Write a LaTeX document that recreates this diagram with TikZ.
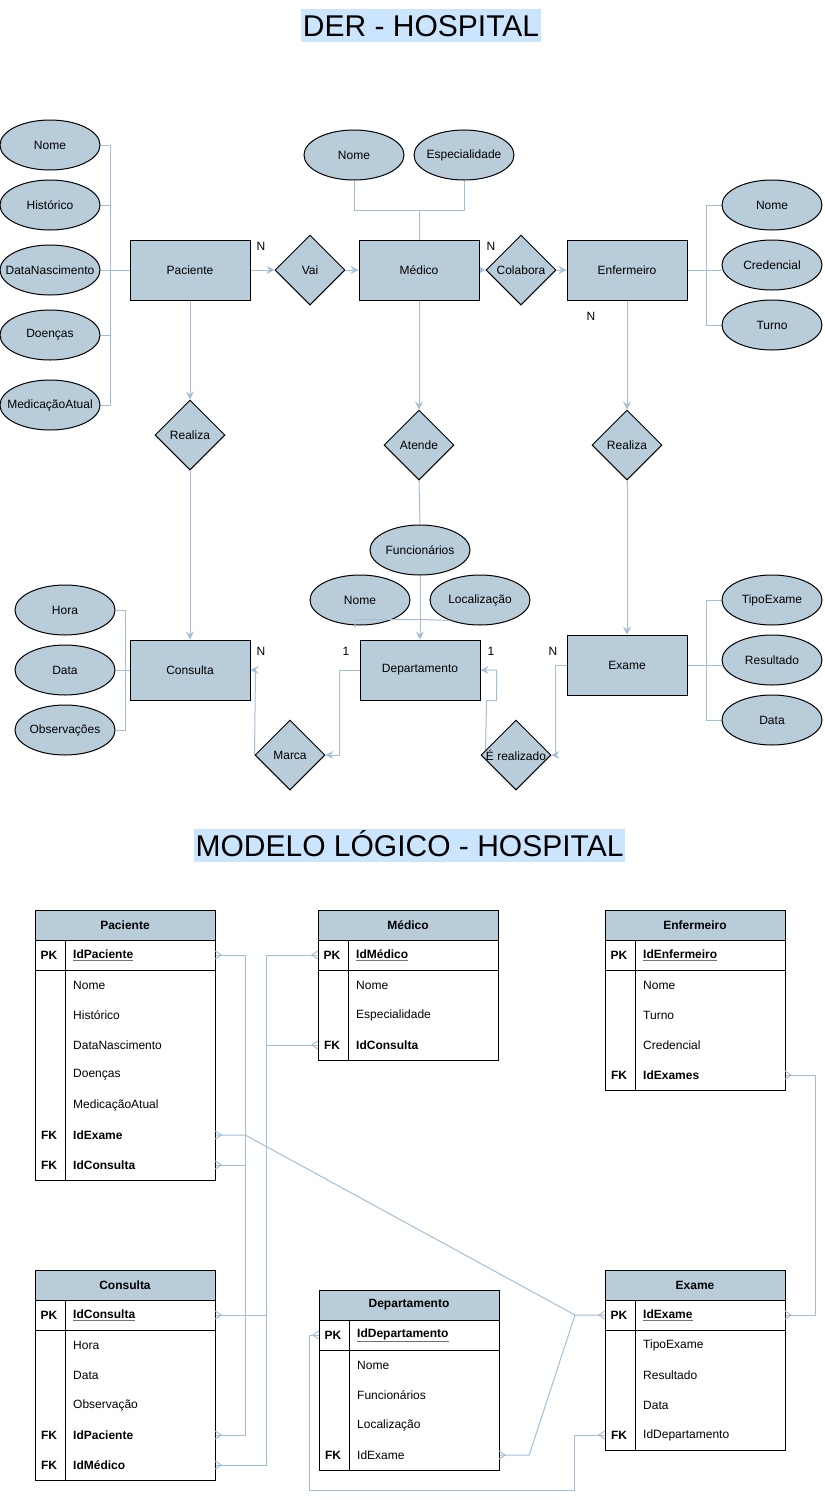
\documentclass[tikz,border=0pt]{standalone}
\usepackage{fontspec}
\setmainfont{Liberation Sans}
\usetikzlibrary{shapes.geometric,arrows.meta,calc,backgrounds}
\definecolor{shapefill}{HTML}{B9CCDA}
\definecolor{edgec}{HTML}{A2BFD9}
\definecolor{hilite}{HTML}{CCE5FF}
\newcommand{\ftn}{\fontsize{12}{14}\selectfont}
\newcommand{\fttitle}{\fontsize{30}{34}\selectfont}
\newcommand{\pkfield}[1]{{\color{black!55}\underline{\textcolor{black}{\textbf{#1}}}}}
\newcommand{\attrnode}[3]{\node[attr] (#1) at (#2) {}; \node[txt] (#1-t) at (#1) {#3};}
\newcommand{\relnode}[3]{\node[rel] (#1) at (#2) {}; \node[txt] (#1-t) at (#1) {#3};}
\newcommand{\trow}[5]{\node[trowbox] (#1) at (#2+90,#3) {}; \node[keytxt] (#1-k) at (#2+14,#3) {#4}; \node[fldtxt] (#1-f) at (#2+38,#3) {#5};}
\tikzset{
  ent/.style={draw=black, fill=shapefill, minimum width=120pt, minimum height=60pt, inner sep=0pt, line width=1pt, font=\ftn},
  attr/.style={ellipse, draw=black, fill=shapefill, minimum width=100pt, minimum height=50pt, inner sep=0pt, line width=1pt},
  rel/.style={diamond, draw=black, fill=shapefill, minimum width=70pt, minimum height=70pt, inner sep=0pt, aspect=1, line width=1pt},
  txt/.style={inner sep=0pt, font=\ftn},
  titlebox/.style={fill=hilite, inner xsep=1.5pt, inner ysep=1pt, text height=26pt, text depth=5pt, font=\fttitle, anchor=base},
  conn/.style={draw=edgec, line width=1pt},
  arr/.style={conn, -{Stealth[length=8pt,width=8pt,inset=3pt]}},
  thead/.style={draw=black, fill=shapefill, minimum width=180pt, minimum height=30pt, inner sep=0pt, line width=1pt, font=\ftn\bfseries},
  tline/.style={draw=black, line width=1pt},
  trowbox/.style={minimum width=180pt, minimum height=30pt, inner sep=0pt},
  keytxt/.style={inner sep=0pt, font=\ftn\bfseries},
  fldtxt/.style={inner sep=0pt, anchor=west, font=\ftn},
  crow/.pic={\draw[conn] (0,-4) -- (6,0) -- (0,4);}
}
\begin{document}
\begin{tikzpicture}[x=1pt,y=-1pt]
\useasboundingbox (0,0) rectangle (825,1500);

% titles
\node[titlebox] (t1) at (421,36) {DER - HOSPITAL};
\node[titlebox] (t2) at (409.5,856) {MODELO LÓGICO - HOSPITAL};

% ===== ER diagram =====
\node[ent] (pac) at (190,270) {Paciente};
\node[ent] (med) at (419,270) {Médico};
\node[ent] (enf) at (627,270) {Enfermeiro};
\node[ent] (cons) at (190,670) {Consulta};
\node[ent] (dep) at (420,670) {Departamento};
\node[ent] (exa) at (627,665) {Exame};

\attrnode{pnome}{50,145}{Nome}
\attrnode{phist}{50,205}{Histórico}
\attrnode{pdata}{50,270}{DataNascimento}
\attrnode{pdoen}{50,335}{Doenças}
\attrnode{pmed}{50,405}{MedicaçãoAtual}
\attrnode{mnome}{354,155}{Nome}
\attrnode{mesp}{464,155}{Especialidade}
\attrnode{enome}{772,205}{Nome}
\attrnode{ecred}{772,265}{Credencial}
\attrnode{eturno}{772,325}{Turno}
\attrnode{chora}{65,610}{Hora}
\attrnode{cdata}{65,670}{Data}
\attrnode{cobs}{65,730}{Observações}
\attrnode{dfunc}{420,550}{Funcionários}
\attrnode{dnome}{360,600}{Nome}
\attrnode{dloc}{480,600}{Localização}
\attrnode{xtipo}{772,600}{TipoExame}
\attrnode{xres}{772,660}{Resultado}
\attrnode{xdata}{772,720}{Data}

\relnode{vai}{310,270}{Vai}
\relnode{col}{521,270}{Colabora}
\relnode{real1}{190,435}{Realiza}
\relnode{atende}{419,445}{Atende}
\relnode{real2}{627,445}{Realiza}
\relnode{marca}{290,755}{Marca}
\relnode{erel}{516,755}{É realizado}

% cardinalities
\node[txt] (n1) at (261,246) {N};
\node[txt] (n2) at (491,246) {N};
\node[txt] (n3) at (591,316) {N};
\node[txt] (n4) at (261,651) {N};
\node[txt] (n5) at (346,651) {1};
\node[txt] (n6) at (491,651) {1};
\node[txt] (n7) at (553,651) {N};

\coordinate (djoin) at ($(dep.north)+(0,-20)$);
\draw[conn] ($(dnome.south)+(-5,3)$) |- (djoin) -- ($(dloc.south)+(-30,-5)$);

% ===== Logical model =====
% Paciente
\node[thead] (pac-h) at (125,925) {Paciente};
\draw[tline] (35,910) rectangle (215,1180);
\draw[tline] (35,970) -- (215,970);
\draw[tline] (65,940) -- (65,1180);
\trow{pac-pk}{35}{955}{PK}{\pkfield{IdPaciente}}
\trow{pac-r1}{35}{985}{}{Nome}
\trow{pac-r2}{35}{1015}{}{Histórico}
\trow{pac-r3}{35}{1045}{}{DataNascimento}
\trow{pac-r4}{35}{1075}{}{Doenças}
\trow{pac-r5}{35}{1105}{}{MedicaçãoAtual}
\trow{pac-fk1}{35}{1135}{FK}{\textbf{IdExame}}
\trow{pac-fk2}{35}{1165}{FK}{\textbf{IdConsulta}}

% Medico
\node[thead] (med-h) at (408,925) {Médico};
\draw[tline] (318,910) rectangle (498,1060);
\draw[tline] (318,970) -- (498,970);
\draw[tline] (348,940) -- (348,1060);
\trow{med-pk}{318}{955}{PK}{\pkfield{IdMédico}}
\trow{med-r1}{318}{985}{}{Nome}
\trow{med-r2}{318}{1015}{}{Especialidade}
\trow{med-fk}{318}{1045}{FK}{\textbf{IdConsulta}}

% Enfermeiro
\node[thead] (enf-h) at (695,925) {Enfermeiro};
\draw[tline] (605,910) rectangle (785,1090);
\draw[tline] (605,970) -- (785,970);
\draw[tline] (635,940) -- (635,1090);
\trow{enf-pk}{605}{955}{PK}{\pkfield{IdEnfermeiro}}
\trow{enf-r1}{605}{985}{}{Nome}
\trow{enf-r2}{605}{1015}{}{Turno}
\trow{enf-r3}{605}{1045}{}{Credencial}
\trow{enf-fk}{605}{1075}{FK}{\textbf{IdExames}}

% Consulta
\node[thead] (con-h) at (125,1285) {Consulta};
\draw[tline] (35,1270) rectangle (215,1480);
\draw[tline] (35,1330) -- (215,1330);
\draw[tline] (65,1300) -- (65,1480);
\trow{con-pk}{35}{1315}{PK}{\pkfield{IdConsulta}}
\trow{con-r1}{35}{1345}{}{Hora}
\trow{con-r2}{35}{1375}{}{Data}
\trow{con-r3}{35}{1405}{}{Observação}
\trow{con-fk1}{35}{1435}{FK}{\textbf{IdPaciente}}
\trow{con-fk2}{35}{1465}{FK}{\textbf{IdMédico}}

% Departamento
\node[thead] (dep-h) at (409,1305) {Departamento};
\draw[tline] (319,1290) rectangle (499,1470);
\draw[tline] (319,1350) -- (499,1350);
\draw[tline] (349,1320) -- (349,1470);
\trow{dep-pk}{319}{1335}{PK}{\pkfield{IdDepartamento}}
\trow{dep-r1}{319}{1365}{}{Nome}
\trow{dep-r2}{319}{1395}{}{Funcionários}
\trow{dep-r3}{319}{1425}{}{Localização}
\trow{dep-fk}{319}{1455}{FK}{IdExame}

% Exame
\node[thead] (exa-h) at (695,1285) {Exame};
\draw[tline] (605,1270) rectangle (785,1450);
\draw[tline] (605,1330) -- (785,1330);
\draw[tline] (635,1300) -- (635,1450);
\trow{exa-pk}{605}{1315}{PK}{\pkfield{IdExame}}
\trow{exa-r1}{605}{1345}{}{TipoExame}
\trow{exa-r2}{605}{1375}{}{Resultado}
\trow{exa-r3}{605}{1405}{}{Data}
\trow{exa-fk}{605}{1435}{FK}{IdDepartamento}

\coordinate (jx) at (575,1315);

% crow's feet
\foreach \n in {pac-pk,pac-fk1,pac-fk2,con-pk,con-fk1,con-fk2,dep-fk,enf-fk,exa-pk}
  \pic at (\n.east) {crow};
\foreach \n in {med-pk,med-fk,exa-pk,exa-fk,dep-pk}
  \pic[rotate=180] at (\n.west) {crow};

% ===== connectors (background) =====
\begin{scope}[on background layer]
\fill[white] (0,0) rectangle (825,1500);
% Paciente attributes
\draw[conn] (pnome.east) -- ++(10,0) |- (pac.west);
\draw[conn] (phist.east) -- ++(10,0) |- (pac.west);
\draw[conn] (pdata.east) -- (pac.west);
\draw[conn] (pdoen.east) -- ++(10,0) |- (pac.west);
\draw[conn] (pmed.east) -- ++(10,0) |- (pac.west);
% Medico attributes
\draw[conn] (mnome.south) -- ++(0,30) -| (med.north);
\draw[conn] (mesp.south) -- ++(0,30) -| (med.north);
% Enfermeiro attributes
\draw[conn] (enome.west) -- ++(-15,0) |- (enf.east);
\draw[conn] (enf.east) -- (ecred.west |- enf.east);
\draw[conn] (eturno.west) -- ++(-15,0) |- (enf.east);
% Consulta attributes
\draw[conn] (chora.east) -- ++(10,0) |- (cons.west);
\draw[conn] (cdata.east) -- (cons.west);
\draw[conn] (cobs.east) -- ++(10,0) |- (cons.west);
% Exame attributes
\draw[conn] (xtipo.west) -- ++(-15,0) |- (exa.east);
\draw[conn] (exa.east) -- (xres.west |- exa.east);
\draw[conn] (xdata.west) -- ++(-15,0) |- (exa.east);
% relationships
\draw[arr] (pac.east) -- (vai.west);
\draw[arr] (vai.east) -- (med.west);
\draw[arr] (med.east) -- (col.west);
\draw[arr] (col.east) -- (enf.west);
\draw[arr] (pac.south) -- (real1.north);
\draw[arr] (real1.south) -- (cons.north);
\draw[arr] (med.south) -- (atende.north);
\draw[conn] (atende.south) -- (dfunc.north);
\draw[arr] (dfunc.south) -- (dep.north);
\draw[arr] (enf.south) -- (real2.north);
\draw[arr] (real2.south) -- (exa.north);
\draw[arr] (dep.west) -- ++(-20,0) |- (marca.east);
\draw[arr] (marca.west) -- ($(cons.east)+(5,0)$) -- (cons.east);
\draw[arr] (exa.west) -- ++(-11,0) |- (erel.east);
\draw[arr] ($(erel.west)+(5,0)$) -- ($(dep.south east)+(6,0)$) -- ($(dep.south east)+(16,0)$) -- ($(dep.east)+(16,0)$) -- (dep.east);
% logical model connectors
\draw[conn] (pac-pk.east) -- ++(30,0) |- (con-fk1.east);
\draw[conn] (pac-fk2.east) -- ++(30,0);
\draw[conn] (pac-fk1.east) -- ++(30,0) -- (jx) -- (exa-pk.west);
\draw[conn] (dep-fk.east) -- ++(30,0) -- (jx);
\draw[conn] (med-pk.west) -- ++(-51,0) |- (con-fk2.east);
\draw[conn] (med-fk.west) -- ++(-51,0);
\draw[conn] (con-pk.east) -- ++(52,0);
\draw[conn] (enf-fk.east) -- ++(30,0) |- (exa-pk.east);
\draw[conn] (exa-fk.west) -- ++(-30,0) -- ++(0,55) -| ($(dep-pk.west)+(-9,0)$) -- (dep-pk.west);
\end{scope}
\end{tikzpicture}
\end{document}
